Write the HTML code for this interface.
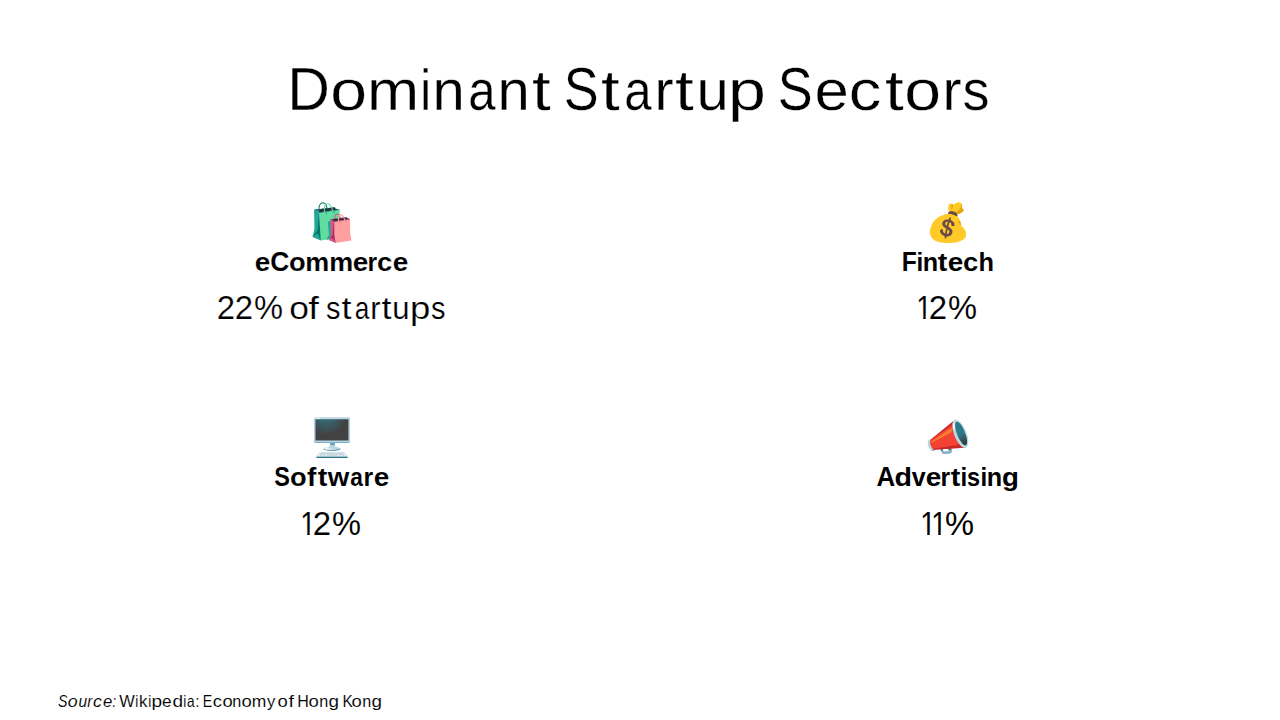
<!DOCTYPE html>
<html lang="en"><head><meta charset="utf-8"><title>Dominant Startup Sectors</title>
<style>
*{margin:0;padding:0;box-sizing:border-box}
html,body{width:1280px;height:720px;background:#fff;overflow:hidden}
body{position:relative;font-family:"Liberation Sans",sans-serif;color:#000}
.t{position:absolute;white-space:nowrap;line-height:1}
.g{display:inline-block}
.emo{position:absolute;overflow:visible}
</style></head><body>
<div class="t" id="title" style="left:286.90px;top:60.00px;font-size:60px;-webkit-text-stroke:0.33px #fff;"><span class="g" style="letter-spacing:1.36px;transform:scale(0.984,1.011);transform-origin:20.57px 50.00px">D</span><span class="g" style="letter-spacing:2.94px;transform:scale(1.102,0.951);transform-origin:16.71px 50.00px">o</span><span class="g" style="letter-spacing:1.09px;transform:scale(1.043,0.951);transform-origin:24.80px 50.00px">m</span><span class="g" style="letter-spacing:-0.51px;transform:scale(0.815,0.960);transform-origin:6.65px 50.00px">i</span><span class="g" style="letter-spacing:-0.18px;transform:scale(0.967,0.951);transform-origin:16.56px 50.00px">n</span><span class="g" style="letter-spacing:-0.96px;transform:scale(0.818,0.951);transform-origin:17.47px 50.00px">a</span><span class="g" style="letter-spacing:2.28px;transform:scale(0.967,0.951);transform-origin:16.56px 50.00px">n</span><span class="g" style="letter-spacing:1.43px;transform:scale(1.122,0.953);transform-origin:8.16px 50.00px">t</span><span style="letter-spacing:-7.18px"> </span><span class="g" style="letter-spacing:1.36px;transform:scale(0.871,1.012);transform-origin:20.55px 50.00px">S</span><span class="g" style="letter-spacing:2.53px;transform:scale(1.122,0.953);transform-origin:8.16px 50.00px">t</span><span class="g" style="letter-spacing:-0.64px;transform:scale(0.818,0.951);transform-origin:17.47px 50.00px">a</span><span class="g" style="letter-spacing:1.86px;transform:scale(0.955,0.942);transform-origin:8.39px 50.00px">r</span><span class="g" style="letter-spacing:3.01px;transform:scale(1.122,0.953);transform-origin:8.16px 50.00px">t</span><span class="g" style="letter-spacing:1.16px;transform:scale(0.967,0.947);transform-origin:16.81px 50.00px">u</span><span class="g" style="letter-spacing:1.43px;transform:scale(1.136,0.951);transform-origin:15.21px 50.00px">p</span><span style="letter-spacing:-7.07px"> </span><span class="g" style="letter-spacing:0.16px;transform:scale(0.871,1.012);transform-origin:20.55px 50.00px">S</span><span class="g" style="letter-spacing:2.36px;transform:scale(1.028,0.951);transform-origin:15.74px 50.00px">e</span><span class="g" style="letter-spacing:5.07px;transform:scale(1.085,0.951);transform-origin:13.70px 50.00px">c</span><span class="g" style="letter-spacing:4.04px;transform:scale(1.122,0.953);transform-origin:8.16px 50.00px">t</span><span class="g" style="letter-spacing:2.04px;transform:scale(1.102,0.951);transform-origin:16.71px 50.00px">o</span><span class="g" style="letter-spacing:-0.99px;transform:scale(0.955,0.942);transform-origin:8.39px 50.00px">r</span><span class="g" style="letter-spacing:1.43px;transform:scale(0.898,0.953);transform-origin:15.15px 50.00px">s</span></div>
<div class="t" id="h1" style="left:255.11px;top:248.00px;font-size:27.3px;font-weight:700;-webkit-text-stroke:0.09px #fff;"><span class="g" style="letter-spacing:0.13px;transform:scale(1.023,0.953);transform-origin:7.27px 23.00px">e</span><span class="g" style="letter-spacing:-0.73px;transform:scale(0.969,1.001);transform-origin:8.86px 23.00px">C</span><span class="g" style="letter-spacing:-0.65px;transform:scale(0.996,0.953);transform-origin:8.35px 23.00px">o</span><span class="g" style="letter-spacing:-1.02px;transform:scale(0.987,0.952);transform-origin:12.11px 23.00px">m</span><span class="g" style="letter-spacing:-0.25px;transform:scale(0.987,0.952);transform-origin:12.11px 23.00px">m</span><span class="g" style="letter-spacing:-0.60px;transform:scale(1.023,0.953);transform-origin:7.27px 23.00px">e</span><span class="g" style="letter-spacing:-0.50px;transform:scale(0.906,0.942);transform-origin:4.62px 23.00px">r</span><span class="g" style="letter-spacing:0.22px;transform:scale(1.005,0.953);transform-origin:6.95px 23.00px">c</span><span class="g" style="letter-spacing:-0.39px;transform:scale(1.023,0.953);transform-origin:7.27px 23.00px">e</span></div>
<div class="t" id="n1" style="left:217.02px;top:292.00px;font-size:32.4px;-webkit-text-stroke:0.20px #fff;"><span class="g" style="letter-spacing:0.38px;transform:scale(1.019,1.027);transform-origin:9.21px 27.00px">2</span><span class="g" style="letter-spacing:0.73px;transform:scale(1.019,1.027);transform-origin:9.21px 27.00px">2</span><span class="g" style="letter-spacing:0.88px;transform:scale(1.007,1.034);transform-origin:14.42px 27.00px">%</span><span style="letter-spacing:-3.12px"> </span><span class="g" style="letter-spacing:1.51px;transform:scale(1.094,0.965);transform-origin:9.03px 27.00px">o</span><span class="g" style="letter-spacing:0.88px;transform:scale(1.179,0.991);transform-origin:4.70px 27.00px">f</span><span style="letter-spacing:-2.99px"> </span><span class="g" style="letter-spacing:0.99px;transform:scale(0.891,0.968);transform-origin:8.18px 27.00px">s</span><span class="g" style="letter-spacing:1.22px;transform:scale(1.113,0.967);transform-origin:4.40px 27.00px">t</span><span class="g" style="letter-spacing:-0.45px;transform:scale(0.812,0.965);transform-origin:9.43px 27.00px">a</span><span class="g" style="letter-spacing:0.92px;transform:scale(0.948,0.956);transform-origin:4.53px 27.00px">r</span><span class="g" style="letter-spacing:1.51px;transform:scale(1.113,0.967);transform-origin:4.40px 27.00px">t</span><span class="g" style="letter-spacing:0.49px;transform:scale(0.959,0.961);transform-origin:9.08px 27.00px">u</span><span class="g" style="letter-spacing:1.36px;transform:scale(1.127,0.966);transform-origin:8.21px 27.00px">p</span><span class="g" style="letter-spacing:0.88px;transform:scale(0.891,0.968);transform-origin:8.18px 27.00px">s</span></div>
<div class="t" id="h2" style="left:900.84px;top:248.00px;font-size:27.3px;font-weight:700;-webkit-text-stroke:0.04px #fff;"><span class="g" style="letter-spacing:-1.87px;transform:scale(0.905,1.000);transform-origin:6.84px 23.00px">F</span><span class="g" style="letter-spacing:-1.53px;transform:scale(0.883,0.949);transform-origin:3.78px 23.00px">i</span><span class="g" style="letter-spacing:-0.25px;transform:scale(0.922,0.952);transform-origin:8.32px 23.00px">n</span><span class="g" style="letter-spacing:0.79px;transform:scale(1.054,0.945);transform-origin:4.50px 23.00px">t</span><span class="g" style="letter-spacing:0.14px;transform:scale(1.023,0.953);transform-origin:7.27px 23.00px">e</span><span class="g" style="letter-spacing:-0.85px;transform:scale(1.005,0.953);transform-origin:6.95px 23.00px">c</span><span class="g" style="letter-spacing:-0.53px;transform:scale(0.930,0.964);transform-origin:7.66px 23.00px">h</span></div>
<div class="t" id="n2" style="left:915.06px;top:292.00px;font-size:32.4px;-webkit-text-stroke:0.10px #fff;"><span class="g" style="letter-spacing:-3.82px;transform:scale(0.856,1.026);transform-origin:8.90px 27.00px;clip-path:polygon(-5px -5px,48.6px -5px,48.6px 24.08px,10.96px 24.08px,10.96px 48.6px,8.20px 48.6px,8.20px 24.08px,-5px 24.08px)">1</span><span class="g" style="letter-spacing:0.74px;transform:scale(1.019,1.027);transform-origin:9.21px 27.00px">2</span><span class="g" style="letter-spacing:-1.79px;transform:scale(1.007,1.034);transform-origin:14.42px 27.00px">%</span></div>
<div class="t" id="h3" style="left:273.06px;top:463.00px;font-size:27.3px;font-weight:700;-webkit-text-stroke:0.06px #fff;"><span class="g" style="letter-spacing:-1.05px;transform:scale(0.861,1.001);transform-origin:9.21px 23.00px">S</span><span class="g" style="letter-spacing:0.01px;transform:scale(0.996,0.953);transform-origin:8.35px 23.00px">o</span><span class="g" style="letter-spacing:1.92px;transform:scale(1.024,0.964);transform-origin:4.82px 23.00px">f</span><span class="g" style="letter-spacing:1.25px;transform:scale(1.054,0.945);transform-origin:4.50px 23.00px">t</span><span class="g" style="letter-spacing:-0.25px;transform:scale(1.016,0.950);transform-origin:10.58px 23.00px">w</span><span class="g" style="letter-spacing:-0.99px;transform:scale(0.833,0.953);transform-origin:7.86px 23.00px">a</span><span class="g" style="letter-spacing:-0.38px;transform:scale(0.906,0.942);transform-origin:4.62px 23.00px">r</span><span class="g" style="letter-spacing:0.13px;transform:scale(1.023,0.953);transform-origin:7.27px 23.00px">e</span></div>
<div class="t" id="n3" style="left:299.06px;top:508.00px;font-size:32.4px;-webkit-text-stroke:0.10px #fff;"><span class="g" style="letter-spacing:-3.82px;transform:scale(0.856,1.026);transform-origin:8.90px 27.00px;clip-path:polygon(-5px -5px,48.6px -5px,48.6px 24.08px,10.96px 24.08px,10.96px 48.6px,8.20px 48.6px,8.20px 24.08px,-5px 24.08px)">1</span><span class="g" style="letter-spacing:0.74px;transform:scale(1.019,1.027);transform-origin:9.21px 27.00px">2</span><span class="g" style="letter-spacing:-1.87px;transform:scale(1.007,1.034);transform-origin:14.42px 27.00px">%</span></div>
<div class="t" id="h4" style="left:876.15px;top:463.00px;font-size:27.3px;font-weight:700;"><span class="g" style="letter-spacing:-0.91px;transform:scale(0.949,1.000);transform-origin:9.84px 23.00px">A</span><span class="g" style="letter-spacing:-0.69px;transform:scale(1.049,0.964);transform-origin:8.96px 23.00px">d</span><span class="g" style="letter-spacing:-0.55px;transform:scale(0.916,0.950);transform-origin:7.54px 23.00px">v</span><span class="g" style="letter-spacing:-0.62px;transform:scale(1.023,0.953);transform-origin:7.27px 23.00px">e</span><span class="g" style="letter-spacing:0.38px;transform:scale(0.906,0.942);transform-origin:4.62px 23.00px">r</span><span class="g" style="letter-spacing:0.10px;transform:scale(1.054,0.945);transform-origin:4.50px 23.00px">t</span><span class="g" style="letter-spacing:-1.80px;transform:scale(0.883,0.949);transform-origin:3.78px 23.00px">i</span><span class="g" style="letter-spacing:-1.69px;transform:scale(0.860,0.952);transform-origin:7.67px 23.00px">s</span><span class="g" style="letter-spacing:-1.53px;transform:scale(0.883,0.949);transform-origin:3.78px 23.00px">i</span><span class="g" style="letter-spacing:-0.68px;transform:scale(0.922,0.952);transform-origin:8.32px 23.00px">n</span><span class="g" style="letter-spacing:-0.73px;transform:scale(1.014,0.952);transform-origin:8.47px 23.00px">g</span></div>
<div class="t" id="n4" style="left:918.58px;top:508.00px;font-size:32.4px;-webkit-text-stroke:0.01px #000;"><span class="g" style="letter-spacing:-6.65px;transform:scale(0.856,1.026);transform-origin:8.90px 27.00px;clip-path:polygon(-5px -5px,48.6px -5px,48.6px 24.08px,11.01px 24.08px,11.01px 48.6px,8.15px 48.6px,8.15px 24.08px,-5px 24.08px)">1</span><span class="g" style="letter-spacing:-3.46px;transform:scale(0.856,1.026);transform-origin:8.90px 27.00px;clip-path:polygon(-5px -5px,48.6px -5px,48.6px 24.08px,11.01px 24.08px,11.01px 48.6px,8.15px 48.6px,8.15px 24.08px,-5px 24.08px)">1</span><span class="g" style="letter-spacing:-3.76px;transform:scale(1.007,1.034);transform-origin:14.42px 27.00px">%</span></div>
<div class="t" id="src" style="left:56.74px;top:693.00px;font-size:17px;-webkit-text-stroke:0.10px #fff;"><i><span class="g" style="letter-spacing:-0.03px;transform:scale(0.836,1.020);transform-origin:6.08px 14.00px">S</span><span class="g" style="letter-spacing:0.45px;transform:scale(1.047,0.959);transform-origin:4.74px 14.00px">o</span><span class="g" style="letter-spacing:-0.23px;transform:scale(0.912,0.955);transform-origin:4.68px 14.00px">u</span><span class="g" style="letter-spacing:0.27px;transform:scale(0.876,0.950);transform-origin:2.47px 14.00px">r</span><span class="g" style="letter-spacing:1.09px;transform:scale(1.032,0.959);transform-origin:3.81px 14.00px">c</span><span class="g" style="letter-spacing:0.02px;transform:scale(0.985,0.959);transform-origin:4.45px 14.00px">e</span><span class="g" style="letter-spacing:0.15px;transform:scale(0.741,0.955);transform-origin:2.36px 14.00px">:</span></i><span style="letter-spacing:-2.35px"> </span><span class="g" style="letter-spacing:-0.24px;transform:scale(0.967,1.019);transform-origin:8.02px 14.00px">W</span><span class="g" style="letter-spacing:0.02px;transform:scale(0.803,0.968);transform-origin:1.88px 14.00px">i</span><span class="g" style="letter-spacing:0.12px;transform:scale(0.997,0.983);transform-origin:3.62px 14.00px">k</span><span class="g" style="letter-spacing:0.30px;transform:scale(0.803,0.968);transform-origin:1.88px 14.00px">i</span><span class="g" style="letter-spacing:1.11px;transform:scale(1.120,0.959);transform-origin:4.31px 14.00px">p</span><span class="g" style="letter-spacing:0.99px;transform:scale(1.013,0.959);transform-origin:4.46px 14.00px">e</span><span class="g" style="letter-spacing:0.27px;transform:scale(1.120,0.983);transform-origin:5.13px 14.00px">d</span><span class="g" style="letter-spacing:-0.13px;transform:scale(0.803,0.968);transform-origin:1.88px 14.00px">i</span><span class="g" style="letter-spacing:-0.31px;transform:scale(0.806,0.959);transform-origin:4.95px 14.00px">a</span><span class="g" style="letter-spacing:0.15px;transform:scale(0.791,0.955);transform-origin:2.36px 14.00px">:</span><span style="letter-spacing:-2.77px"> </span><span class="g" style="letter-spacing:-0.59px;transform:scale(0.834,1.019);transform-origin:4.85px 14.00px">E</span><span class="g" style="letter-spacing:1.16px;transform:scale(1.070,0.959);transform-origin:3.88px 14.00px">c</span><span class="g" style="letter-spacing:0.34px;transform:scale(1.086,0.959);transform-origin:4.74px 14.00px">o</span><span class="g" style="letter-spacing:0.39px;transform:scale(0.953,0.959);transform-origin:4.69px 14.00px">n</span><span class="g" style="letter-spacing:0.66px;transform:scale(1.086,0.959);transform-origin:4.74px 14.00px">o</span><span class="g" style="letter-spacing:0.00px;transform:scale(1.028,0.959);transform-origin:7.03px 14.00px">m</span><span class="g" style="letter-spacing:0.15px;transform:scale(0.976,0.955);transform-origin:3.96px 14.00px">y</span><span style="letter-spacing:-1.53px"> </span><span class="g" style="letter-spacing:0.75px;transform:scale(1.086,0.959);transform-origin:4.74px 14.00px">o</span><span class="g" style="letter-spacing:0.15px;transform:scale(1.171,0.985);transform-origin:2.46px 14.00px">f</span><span style="letter-spacing:-1.40px"> </span><span class="g" style="letter-spacing:0.26px;transform:scale(0.944,1.019);transform-origin:6.14px 14.00px">H</span><span class="g" style="letter-spacing:0.33px;transform:scale(1.086,0.959);transform-origin:4.74px 14.00px">o</span><span class="g" style="letter-spacing:0.68px;transform:scale(0.953,0.959);transform-origin:4.69px 14.00px">n</span><span class="g" style="letter-spacing:0.15px;transform:scale(1.109,0.961);transform-origin:4.86px 14.00px">g</span><span style="letter-spacing:-1.99px"> </span><span class="g" style="letter-spacing:-0.53px;transform:scale(0.910,1.019);transform-origin:4.88px 14.00px">K</span><span class="g" style="letter-spacing:0.34px;transform:scale(1.086,0.959);transform-origin:4.74px 14.00px">o</span><span class="g" style="letter-spacing:0.68px;transform:scale(0.953,0.959);transform-origin:4.69px 14.00px">n</span><span class="g" style="letter-spacing:0.15px;transform:scale(1.109,0.961);transform-origin:4.86px 14.00px">g</span></div>
<svg class="emo" role="img" aria-label="shopping bags" style="left:309.00px;top:200.70px;width:46.03px;height:43.32px" viewBox="0 -950 1275 1200"><defs><path d="M899,57 L850,-246 L850,-711 L277,-625 L277,-160 L325,144 Z" id="u1F6CD.2"/></defs><g id="glyph3600"><path d="M276,-578 L304,-582 Q285,-725 293,-777 Q306,-862 356,-884 Q379,-894 405,-884 Q432,-874 449,-848 Q465,-824 479,-773 Q499,-698 509,-612 L537,-616 Q527,-703 506,-781 Q491,-836 473,-864 Q450,-898 415,-911 Q378,-924 345,-910 Q281,-882 265,-781 Q257,-726 276,-578 Z" fill="#00796B"/><path d="M325,143 L850,-711 L714,-729 L714,-779 L140,-711 L151,-183 L99,49 Z" fill="#26A69A"/><use href="#u1F6CD.2" fill="#61DE9F"/><path d="M277,-625 L850,-711 L733,-734 L715,-775 L140,-711 L277,-677 Z" fill="#263238"/><path d="M99,49 L238,-138 L276,-625 L306,-174 L325,144 L235,-55 Q235,-55 221.5,-44.5 Q208,-34 188,-18.5 Q168,-3 148,12.5 Q128,28 114,38.5 Q100,49 99,49 Z" fill="#00796B"/><path d="M713,-769 L192,-708 L279,-686 L286,-684 L286,-677 L286,-636 L803,-714 L733,-732 L729,-733 L727,-737 L713,-769 Z M719,-779 L719,-779 L735,-741 L850,-711 L277,-625 L277,-677 L140,-711 Z" fill="#26A69A"/><path d="M436,-588 L463,-591 Q462,-600 456,-627 Q435,-721 439,-768 Q446,-847 512,-859 Q569,-870 613,-766 Q645,-692 654,-616 L682,-619 Q672,-699 639,-777 Q586,-901 507,-887 Q419,-870 411,-771 Q407,-719 429,-621 Q435,-595 436,-588 Z" fill="#61DE9F"/><path d="M467,-575 L499,-581 Q493,-594 488.5,-613.5 Q484,-633 481,-648.5 Q478,-664 478,-664 L450,-660 Q450,-659 452.5,-643.5 Q455,-628 459,-608 Q463,-588 467,-575 Z" fill="#26A69A"/><path d="M686,-608 L718,-614 Q713,-627 708,-646.5 Q703,-666 699.5,-681.5 Q696,-697 696,-698 L669,-693 Q669,-692 671.5,-676.5 Q674,-661 678,-641.5 Q682,-622 686,-608 Z" fill="#26A69A"/><path d="M477,121 L664,93 L833,-440 L518,-379 L555,-15 Z" fill="#26A69A"/><path d="M709,-413 L736,-418 Q728,-463 734,-506 Q744,-583 804,-577 Q833,-574 846,-508 Q853,-471 853,-435 L881,-435 Q881,-473 874,-513 Q857,-600 807,-605 Q719,-614 706,-509 Q699,-462 709,-413 Z" fill="#D7578A"/><path d="M736,212 L1139,-445 L1034,-458 L1034,-497 L593,-445 L602,-39 L561,140 Z" fill="#D7578A"/><use href="#u1F6CD.2" x="485.518" y="101.787" transform="matrix(0.769 0 0 0.769 112.155 23.513)" fill="#FF9F9F"/><path d="M698,-378 L1139,-445 L1074,-472 L1034,-497 L593,-445 L663,-405 Z" fill="#263238"/><path d="M1032,-487 L621,-439 L700,-388 L1108,-450 L1032,-487 Z M1034,-497 L1034,-497 L1139,-445 L698,-378 L593,-445 Z" fill="#D7578A"/><path d="M847,-342 L871,-348 Q868,-358 865.5,-372.5 Q863,-387 861,-399 Q859,-411 859,-411 L834,-408 Q834,-407 836,-395 Q838,-383 841,-368 Q844,-353 847,-342 Z" fill="#D7578A"/><path d="M1015,-368 L1037,-372 Q1034,-382 1031.5,-397.5 Q1029,-413 1027.5,-424.5 Q1026,-436 1026,-437 L1002,-434 Q1002,-433 1004,-421 Q1006,-409 1009,-394 Q1012,-379 1015,-368 Z" fill="#D7578A"/><path d="M819,-340 L847,-343 Q846,-350 842,-370 Q826,-447 828,-486 Q832,-549 879,-555 Q921,-561 954,-484 Q978,-429 985,-371 L1013,-375 Q1006,-436 980,-495 Q938,-592 875,-583 Q806,-574 800,-488 Q797,-445 814,-365 Q819,-345 819,-340 Z" fill="#FF9F9F"/><path d="M561,140 L655,-18 L688,-382 L699,-377 L698,-19 L736,212 L650,64 Z" fill="#AB2C5E"/></g></svg>
<svg class="emo" role="img" aria-label="money bag" style="left:925.20px;top:200.70px;width:46.03px;height:43.32px" viewBox="0 -950 1275 1200"><defs><path d="M803,-650 Q750,-668 714.5,-660.5 Q679,-653 658,-637 Q647,-629 641.5,-618.5 Q636,-608 641.5,-600.5 Q647,-593 669,-594 Q718,-596 758,-584.5 Q798,-573 827.5,-557.5 Q857,-542 874.5,-533.5 Q892,-525 894,-534 Q897,-543 890.5,-566 Q884,-589 863.5,-613 Q843,-637 803,-650 Z" id="u1F4B0.6"/></defs><g id="glyph3502"><path d="M914,-580 Q869,-570 821,-566 Q773,-562 729,-576 Q693,-586 673,-627 Q653,-668 645,-745 Q642,-778 647.5,-814 Q653,-850 680,-869 Q700,-883 716,-882 Q732,-881 745,-872 Q758,-863 768,-852.5 Q778,-842 785,-837 Q806,-854 828,-871 Q850,-888 875,-899 Q900,-910 928,-912.5 Q956,-915 981,-903 Q1006,-892 1020.5,-866.5 Q1035,-841 1027,-814 Q1021,-791 1018,-777.5 Q1015,-764 1032,-745 Q1037,-739 1048,-729 Q1059,-719 1067,-707.5 Q1075,-696 1071,-687 Q1065,-672 1039,-649.5 Q1013,-627 979,-607 Q945,-587 914,-580 Z" fill="#FFCA28"/><path d="M1016,-873 Q1032,-846 1030.5,-824.5 Q1029,-803 1023.5,-787.5 Q1018,-772 1020,-762 Q1025,-748 1034,-741 Q1043,-734 1053,-728.5 Q1063,-723 1068.5,-714 Q1074,-705 1071,-687 Q1068,-671 1041.5,-649.5 Q1015,-628 979.5,-609 Q944,-590 914,-580 Q887,-572 869.5,-570.5 Q852,-569 852,-569 L810,-605 Q834,-620 867.5,-644.5 Q901,-669 934,-702.5 Q967,-736 990,-779 Q1013,-822 1016,-873 Z" fill="#E2A610"/><path d="M785,-837 Q785,-837 771.5,-799.5 Q758,-762 749,-707 Q749,-703 744.5,-702.5 Q740,-702 739,-706 Q729,-732 725,-763.5 Q721,-795 726,-819 Q730,-847 744,-872 Q757,-864 771,-850.5 Q785,-837 785,-837 Z" fill="#E2A610"/><path d="M618,-592 Q618,-592 642,-597 Q666,-602 704.5,-602 Q743,-602 788.5,-589 Q834,-576 877,-540 Q925,-499 951,-451.5 Q977,-404 987.5,-361.5 Q998,-319 999.5,-292 Q1001,-265 1001,-265 Q1001,-265 1020,-250 Q1039,-235 1065,-206.5 Q1091,-178 1112.5,-138 Q1134,-98 1139,-47 Q1144,-1 1125.5,44 Q1107,89 1055,126.5 Q1003,164 905,187 Q847,201 778.5,207 Q710,213 640,212.5 Q570,212 504,205 Q438,198 383.5,186 Q329,174 293,157 Q248,136 209.5,96.5 Q171,57 150,-1 Q129,-59 137,-135.5 Q145,-212 194,-307 Q234,-383 288.5,-434.5 Q343,-486 400.5,-517.5 Q458,-549 507.5,-565 Q557,-581 587.5,-586.5 Q618,-592 618,-592 Z" fill="#FFCA28"/><path d="M738,-165 Q757,-142 759.5,-116.5 Q762,-91 755,-62 Q751,-42 736,-21.5 Q721,-1 694,14 Q667,29 628,31.5 Q589,34 537,17 Q509,8 484,-9.5 Q459,-27 439,-55 Q426,-72 419,-95.5 Q412,-119 418,-140 Q424,-161 453,-170 Q482,-179 495,-152 Q501,-140 499.5,-126.5 Q498,-113 502,-100 Q507,-88 523.5,-72.5 Q540,-57 569,-48 Q598,-39 638,-46 Q653,-49 664,-62 Q675,-75 675,-94.5 Q675,-114 656,-137 Q645,-150 620,-166 Q595,-182 571,-195.5 Q547,-209 539,-215 Q503,-242 489.5,-270 Q476,-298 477,-322 Q478,-346 485,-359 Q504,-394 527,-411 Q550,-428 572.5,-433.5 Q595,-439 613,-438.5 Q631,-438 639,-437 Q676,-434 707,-420.5 Q738,-407 759.5,-391.5 Q781,-376 790,-366 Q800,-353 810,-333 Q820,-313 820,-293 Q820,-273 804,-261 Q787,-249 769.5,-252 Q752,-255 740,-267.5 Q728,-280 729,-294 Q729,-304 729.5,-314.5 Q730,-325 723,-333 Q690,-364 656,-369.5 Q622,-375 606,-372 Q592,-369 577.5,-359 Q563,-349 560,-334 Q558,-319 563,-307 Q568,-295 578,-283 Q590,-269 616,-257 Q642,-245 674.5,-225 Q707,-205 738,-165 Z" fill="#6B4B46"/><path d="M726,-481 L683,-501 Q608,-339 567,-113 Q547,0 542,82 L589,85 Q594,6 614,-104 Q653,-325 726,-481 Z" fill="#6B4B46"/><use href="#u1F4B0.6" fill="#6D4C41"/><use href="#u1F4B0.6" fill="#6B4B46"/><path d="M942,-398 Q930,-390 933,-369.5 Q936,-349 948,-325 Q955,-313 967.5,-299 Q980,-285 990.5,-275 Q1001,-265 1001,-265 Q1001,-265 999.5,-284.5 Q998,-304 995,-328 Q990,-361 979.5,-377 Q969,-393 958,-397.5 Q947,-402 942,-398 Z" fill="#E2A610"/></g></svg>
<svg class="emo" role="img" aria-label="desktop computer" style="left:309.00px;top:415.70px;width:46.03px;height:43.32px" viewBox="0 -950 1275 1200"><defs><path d="M178.907,-861.706 L178.907,-270.606 L1092.647,-270.606 L1092.647,-861.706 Z" id="u1F5A5.40"/><radialGradient id="g10417" cx="470.918" cy="-998.556" r="571.55" gradientUnits="userSpaceOnUse" gradientTransform="matrix(0.999 0 0 1 0 0)"><stop offset="0" stop-color="#2F7889"/><stop offset="1" stop-color="#424242"/></radialGradient><path d="M1101,-203 Q1115,-203 1124,-212.5 Q1133,-222 1133,-235 L1133,-864 Q1133,-877 1123.5,-886.5 Q1114,-896 1101,-896 L174,-896 Q160,-896 151,-886.5 Q142,-877 142,-864 L142,-235 Q142,-222 151,-212.5 Q160,-203 174,-203 Z" id="u1F5A5.38"/></defs><g id="glyph2375"><path d="M709,-307 Q709,-212 718.5,-153 Q728,-94 738,-67 Q748,-40 748,-40 L549,-40 Q549,-40 559,-67 Q569,-94 578.5,-153 Q588,-212 588,-307 L648,-307 Z" fill="#B7D5E5"/><path d="M407,-30 Q408,-17 439,-7 Q470,3 521.5,9 Q573,15 637,15 Q701,15 751.5,9 Q802,3 832.5,-7.5 Q863,-18 867,-30 Q869,-37 867.5,-46 Q866,-55 866,-55 Q857,-59 820.5,-61 Q784,-63 732,-62.5 Q680,-62 624,-61 Q568,-60 519,-58.5 Q470,-57 439,-55.5 Q408,-54 408,-54 Q408,-54 407,-46 Q406,-38 407,-30 Z" fill="#2F7889"/><path d="M868,-50 Q868,-63 837,-73 Q806,-83 753.5,-89 Q701,-95 638,-95 Q574,-95 521.5,-89 Q469,-83 438,-73 Q407,-63 407,-50 Q407,-38 438,-28 Q469,-18 521.5,-11.5 Q574,-5 638,-5 Q701,-5 753.5,-11.5 Q806,-18 837,-28 Q868,-38 868,-50 Z" fill="#B7D5E5"/><path d="M709,-307 Q709,-251 712.5,-208 Q716,-165 722,-134 L578,-156 Q583,-185 585.5,-222.5 Q588,-260 588,-307 L648,-307 Z" fill="#69A1BA"/><path d="M558,-93 Q548,-93 523,-90 Q498,-87 470,-81.5 Q442,-76 423.5,-67.5 Q405,-59 408,-47 Q411,-36 432,-28.5 Q453,-21 483,-17.5 Q513,-14 545,-12.5 Q577,-11 603,-11.5 Q629,-12 640,-13 Q681,-15 692,-24 Q703,-33 659,-36 Q598,-40 569,-48 Q540,-56 531,-68 Q527,-73 534,-79 Q541,-85 549.5,-89 Q558,-93 558,-93 Z" fill="#EEEEEE"/><path d="M969,49 Q984,49 993,61 L1067,162 Q1072,169 1068,176.5 Q1064,184 1055,184 L220,184 Q211,184 207,176.5 Q203,169 208,162 L281,62 Q290,49 305,49 Z" fill="#EEEEEE"/><g opacity="0.57"><path d="M371,93 L377,82 L332,82 L326,93 Z" fill="#69A1BA"/><path d="M443,93 L450,82 L403,82 L398,93 Z" fill="#69A1BA"/><path d="M512,93 L518,82 L473,82 L465,93 Z" fill="#69A1BA"/><path d="M580,93 L585,82 L541,82 L534,93 Z" fill="#69A1BA"/><path d="M648,93 L644,82 L605,82 L601,93 Z" fill="#69A1BA"/><path d="M715,93 L708,82 L665,82 L670,93 Z" fill="#69A1BA"/><path d="M786,93 L777,82 L732,82 L740,93 Z" fill="#69A1BA"/><path d="M854,93 L846,82 L799,82 L807,93 Z" fill="#69A1BA"/><path d="M946,93 L939,82 L868,82 L876,93 Z" fill="#69A1BA"/><path d="M911,111 L902,99 L948,99 L956,111 Z" fill="#69A1BA"/><path d="M836,111 L827,99 L872,99 L881,111 Z" fill="#69A1BA"/><path d="M767,111 L759,99 L806,99 L813,111 Z" fill="#69A1BA"/><path d="M693,111 L687,99 L731,99 L739,111 Z" fill="#69A1BA"/><path d="M627,111 L629,99 L668,99 L673,111 Z" fill="#69A1BA"/><path d="M562,111 L566,99 L610,99 L607,111 Z" fill="#69A1BA"/><path d="M490,111 L497,99 L541,99 L535,111 Z" fill="#69A1BA"/><path d="M409,111 L416,99 L462,99 L455,111 Z" fill="#69A1BA"/><path d="M316,111 L322,99 L392,99 L385,111 Z" fill="#69A1BA"/><path d="M751,130 L743,117 L789,117 L797,130 Z" fill="#69A1BA"/><path d="M678,130 L674,117 L717,117 L723,130 Z" fill="#69A1BA"/><path d="M591,130 L595,117 L636,117 L638,130 Z" fill="#69A1BA"/><path d="M509,130 L515,117 L560,117 L556,130 Z" fill="#69A1BA"/><path d="M423,130 L430,117 L476,117 L468,130 Z" fill="#69A1BA"/><path d="M307,130 L314,117 L406,117 L399,130 Z" fill="#69A1BA"/><path d="M829,130 L821,117 L958,117 L966,130 Z" fill="#69A1BA"/><path d="M933,148 L924,136 L970,136 L980,148 Z" fill="#69A1BA"/><path d="M848,148 L839,136 L884,136 L894,148 Z" fill="#69A1BA"/><path d="M481,148 L488,136 L786,136 L793,148 Z" fill="#69A1BA"/><path d="M383,148 L390,136 L434,136 L429,148 Z" fill="#69A1BA"/><path d="M296,148 L302,136 L346,136 L341,148 Z" fill="#69A1BA"/></g><path d="M1056,212 Q1063,212 1067.5,207.5 Q1072,203 1072,197 L1072,175 L203,175 L203,197 Q203,203 207.5,207.5 Q212,212 219,212 Z" fill="#2F7889"/><path d="M969,58 L305,58 Q295,58 289,67 L289,67 L289,67 L213,172 Q212,173 213,174 Q213,175 214,175 L1061,175 Q1062,175 1062,174 Q1063,173 1062,172 L985,66 Q979,58 969,58 Z M969,49 L969,49 Q984,49 993,61 L1070,166 Q1074,172 1071,178 Q1068,184 1061,184 L214,184 Q207,184 204,178 Q201,172 205,166 L281,62 Q290,49 305,49 Z" fill="#B7D5E5"/><use href="#u1F5A5.38" fill="#69A1BA"/><use href="#u1F5A5.38" y="-16.594" fill="#B7D5E5"/><use href="#u1F5A5.40" fill="url(#g10417)"/><path d="M191,-899 Q177,-899 177,-884 Q177,-870 191,-870 L296,-870 Q310,-870 310,-884 Q310,-899 296,-899 Z" fill="#EEEEEE"/></g></svg>
<svg class="emo" role="img" aria-label="megaphone" style="left:925.20px;top:415.70px;width:46.03px;height:43.32px" viewBox="0 -950 1275 1200"><defs><linearGradient id="g10310" x1="1122" y1="-171" x2="1004.148" y2="-453.645" gradientUnits="userSpaceOnUse"><stop offset="0" stop-color="#353738"/><stop offset="1" stop-color="#353738" stop-opacity="0"/></linearGradient><path d="M267,-176 Q250,-219 224.5,-250 Q199,-281 171,-294.5 Q143,-308 119,-298 Q95,-289 84,-260 Q73,-231 75.5,-191 Q78,-151 95,-108 Q112,-65 138,-34 Q164,-3 191.5,10.5 Q219,24 243,15 Q267,5 278,-24 Q289,-53 287,-93 Q285,-133 267,-176 Z" id="u1F4E3.3"/></defs><g id="glyph2282"><path d="M655,95 Q691,93 709.5,84 Q728,75 738,55 Q747,38 744,17.5 Q741,-3 733,-23 L701,-105 L626,-79 L655,-4 Q660,7 655,17 Q650,27 629,29 L531,37 Q517,37 512,25 L485,-45 L426,-33 L458,48 Q469,76 483,87.5 Q497,99 529,100 Z" fill="#82AEC0"/><path d="M428,-28 L490,-32 L507,13 Q507,13 499.5,7.5 Q492,2 473,4 Q457,5 451,10 Q445,15 445,15 Z" fill="#2F7889"/><path d="M641,-41 L658,2 Q658,2 665.5,-6.5 Q673,-15 690,-16 Q715,-17 727.5,-10.5 Q740,-4 740,-4 Q740,-4 736,-16.5 Q732,-29 724,-47 Z" fill="#2F7889"/><use href="#u1F4E3.3" fill="#B8DADE"/><path d="M287,-64 Q285,-35 273.5,-14 Q262,7 243,14 Q225,22 204,15.5 Q183,9 163,-8 Q163,-8 175.5,-6.5 Q188,-5 201.5,-11.5 Q215,-18 219,-40 Q219,-40 232,-49 Q245,-58 261.5,-64.5 Q278,-71 287,-64 Z" fill="#82AEC0"/><path d="M797,-813 Q830,-826 870,-809 Q910,-792 952.5,-750 Q995,-708 1034,-646 Q1073,-584 1103,-507 Q1133,-430 1147,-358 Q1161,-286 1159.5,-226.5 Q1158,-167 1140,-127 Q1122,-87 1089,-74 L275,-18 Q260,-13 238,-25.5 Q216,-38 194.5,-65.5 Q173,-93 157,-132 Q134,-191 139,-237.5 Q144,-284 163,-297 Z" fill="#F44336"/><path d="M930,-195 L1089,-74 Q1086,-73 1050.5,-70 Q1015,-67 956.5,-62.5 Q898,-58 825.5,-53.5 Q753,-49 676.5,-44 Q600,-39 528.5,-34 Q457,-29 400,-25.5 Q343,-22 309,-20 Q275,-18 275,-18 Q260,-13 244,-22 Q228,-31 219,-40 Q219,-40 251.5,-45 Q284,-50 336.5,-58 Q389,-66 449.5,-75 Q510,-84 566.5,-93 Q623,-102 664.5,-108.5 Q706,-115 720,-117 Q816,-133 866.5,-142 Q917,-151 931,-162 Q945,-173 930,-195 Z" fill="#C62828"/><path d="M726,-690 Q701,-672 656,-639.5 Q611,-607 553.5,-565.5 Q496,-524 434.5,-479 Q373,-434 315.5,-392.5 Q258,-351 213,-317.5 Q168,-284 143,-266 Q143,-266 146.5,-277.5 Q150,-289 163,-297 L799,-816 Q799,-816 792.5,-808.5 Q786,-801 779,-791 Q772,-781 769,-774 Q767,-769 765.5,-759 Q764,-749 762,-739 Q759,-720 747,-708.5 Q735,-697 726,-690 Z" fill="#C62828"/><path d="M1137,-520 Q1105,-601 1064.5,-667 Q1024,-733 981.5,-778 Q939,-823 898,-842 Q857,-861 825,-848 Q792,-835 775.5,-793.5 Q759,-752 758.5,-690 Q758,-628 774,-552 Q790,-476 822,-396 Q854,-315 894,-249 Q934,-183 977,-138 Q1020,-93 1060.5,-74 Q1101,-55 1134,-68 Q1167,-81 1183.5,-122.5 Q1200,-164 1200.5,-226 Q1201,-288 1185,-364 Q1169,-440 1137,-520 Z" fill="#B8DADE"/><path d="M1103,-507 Q1068,-596 1024.5,-664 Q981,-732 940.5,-766.5 Q900,-801 871,-790 Q843,-778 837,-725.5 Q831,-673 846,-593.5 Q861,-514 896,-425 Q932,-336 975,-268 Q1018,-200 1058.5,-165.5 Q1099,-131 1128,-142 Q1156,-153 1162.5,-206 Q1169,-259 1153.5,-338 Q1138,-417 1103,-507 Z" fill="#2F7889"/><path d="M1128,-142 Q1099,-131 1058.5,-165.5 Q1018,-200 975,-268 Q932,-336 896,-425 L1103,-507 Q1138,-418 1153.5,-338.5 Q1169,-259 1162.5,-206 Q1156,-153 1128,-142 Z" fill="url(#g10310)"/><path d="M785,-597 Q786,-590 793,-581 Q800,-572 810,-576 Q821,-580 822.5,-588.5 Q824,-597 822,-605 Q807,-679 814,-737 Q815,-745 812,-751 Q809,-757 801,-758 Q793,-759 788,-752 Q783,-745 781,-737 Q776,-708 776,-672.5 Q776,-637 785,-597 Z" fill="white"/><path d="M178,-242 Q175,-240 167,-234.5 Q159,-229 157,-217 Q156,-207 164,-207.5 Q172,-208 177,-211 L697,-481 Q702,-484 713,-489 Q724,-494 733.5,-501.5 Q743,-509 744,-518 Q745,-539 743.5,-555 Q742,-571 740,-587 Q738,-605 731.5,-607.5 Q725,-610 717,-605 Q709,-600 701,-594 Z" fill="#FFCA28" opacity="0.45"/></g></svg>
</body></html>
